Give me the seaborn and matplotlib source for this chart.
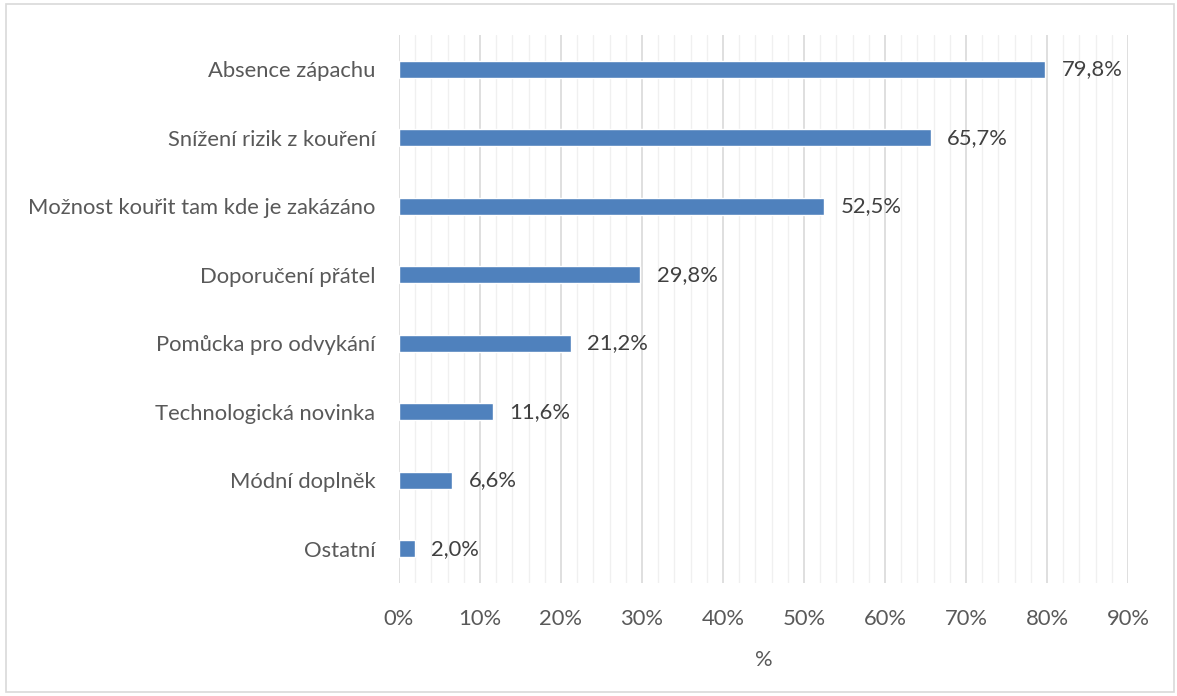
import matplotlib
matplotlib.use("Agg")
import matplotlib.pyplot as plt
from matplotlib.patches import Rectangle
from matplotlib.ticker import MultipleLocator, PercentFormatter
import seaborn as sns
import pandas as pd

categories = [
    "Absence zápachu",
    "Snížení rizik z kouření",
    "Možnost kouřit tam kde je zakázáno",
    "Doporučení přátel",
    "Pomůcka pro odvykání",
    "Technologická novinka",
    "Módní doplněk",
    "Ostatní",
]
values = [79.8, 65.7, 52.5, 29.8, 21.2, 11.6, 6.6, 2.0]
value_labels = ["79,8%", "65,7%", "52,5%", "29,8%", "21,2%", "11,6%", "6,6%", "2,0%"]

df = pd.DataFrame({"kategorie": categories, "podil": values})

sns.set_style("white")
plt.rcParams["font.family"] = ["Lato", "DejaVu Sans"]

text_color = "#595959"
bar_color = "#4F81BD"
fs = 15.8

fig = plt.figure(figsize=(11.77, 6.96), dpi=100)
ax = fig.add_axes([399 / 1177, 1 - 583 / 696, 729 / 1177, 548 / 696])

sns.barplot(data=df, y="kategorie", x="podil", orient="h", color=bar_color,
            width=0.25, saturation=1, ax=ax, zorder=3)

ax.set_xlim(0, 90)
ax.set_ylim(len(categories) - 0.5, -0.5)
ax.xaxis.set_major_locator(MultipleLocator(10))
ax.xaxis.set_minor_locator(MultipleLocator(2))
ax.xaxis.set_major_formatter(PercentFormatter(decimals=0))
ax.grid(axis="x", which="major", color="#d9d9d9", linewidth=1.2, zorder=0)
ax.grid(axis="x", which="minor", color="#f0f0f0", linewidth=1.0, zorder=0)
ax.set_axisbelow(True)
for s in ax.spines.values():
    s.set_visible(False)

ax.tick_params(axis="both", which="both", length=0, labelsize=fs, labelcolor=text_color)
ax.tick_params(axis="x", pad=19)
ax.tick_params(axis="y", pad=17)
ax.set_ylabel("")
ax.set_xlabel("%", fontsize=fs, color=text_color, labelpad=15)

for i, (v, lab) in enumerate(zip(values, value_labels)):
    ax.text(v + 2.0, i, lab, va="center", ha="left", fontsize=fs, color="#404040")

fig.add_artist(Rectangle((6 / 1177, 4 / 696), 1168 / 1177, 688 / 696,
                         transform=fig.transFigure, fill=False,
                         edgecolor="#d9d9d9", linewidth=1.2))

fig.savefig("out.png", dpi=100, facecolor="white")
